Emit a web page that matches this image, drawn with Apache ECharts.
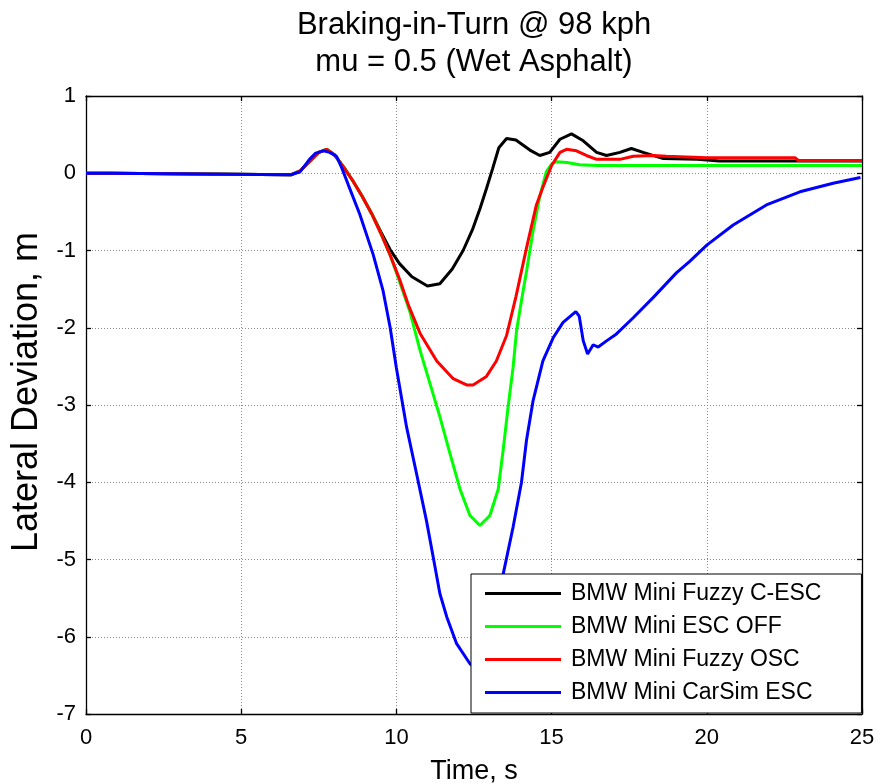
<!DOCTYPE html>
<html>
<head>
<meta charset="utf-8">
<script src="https://cdn.jsdelivr.net/npm/echarts@6/dist/echarts.min.js"></script>
<style>html,body{margin:0;padding:0;background:#fff}#c{width:878px;height:784px}</style>
</head>
<body>
<div id="c"></div>
<script>
const titleText = ['Braking-in-Turn @ 98 kph', 'mu = 0.5 (Wet Asphalt)'];
const xTicks = [0, 5, 10, 15, 20, 25];
const yTicks = [-7, -6, -5, -4, -3, -2, -1, 0, 1];
const seriesNames = ['BMW Mini Fuzzy C-ESC', 'BMW Mini ESC OFF', 'BMW Mini Fuzzy OSC', 'BMW Mini CarSim ESC'];

const cescT = [0, 0.77, 0.82, 6.6, 6.9, 7.2, 7.5, 7.75, 8.0, 8.3, 8.6, 8.9, 9.2, 9.5, 9.8, 10.1, 10.5, 11.0, 11.4, 11.8, 12.15, 12.45, 12.7, 12.9, 13.1, 13.3, 13.55, 13.85, 14.3, 14.62, 14.94, 15.27, 15.64, 16.02, 16.45, 16.77, 17.2, 17.57, 17.95, 18.6, 19.7, 20.4, 22.1, 25];
const cescY = [0, 0, -0.02, -0.02, 0.03, 0.15, 0.27, 0.31, 0.24, 0.08, -0.1, -0.3, -0.52, -0.76, -0.99, -1.17, -1.34, -1.46, -1.43, -1.24, -1.0, -0.73, -0.45, -0.2, 0.06, 0.33, 0.45, 0.43, 0.3, 0.23, 0.27, 0.44, 0.51, 0.42, 0.27, 0.23, 0.27, 0.32, 0.27, 0.19, 0.18, 0.16, 0.16, 0.16];

const offT = [0, 0.77, 0.82, 6.6, 6.9, 7.2, 7.5, 7.75, 8.0, 8.3, 8.6, 8.9, 9.2, 9.5, 9.8, 10.1, 10.44, 10.76, 11.08, 11.4, 11.72, 12.05, 12.37, 12.69, 13.01, 13.28, 13.44, 13.6, 13.76, 13.87, 14.05, 14.2, 14.4, 14.62, 14.83, 15.0, 15.16, 15.5, 15.9, 16.45, 25];
const offY = [0, 0, -0.02, -0.02, 0.03, 0.15, 0.27, 0.31, 0.24, 0.08, -0.1, -0.3, -0.52, -0.78, -1.06, -1.4, -1.8, -2.29, -2.72, -3.15, -3.62, -4.09, -4.43, -4.56, -4.43, -4.09, -3.58, -3.02, -2.51, -2.04, -1.6, -1.25, -0.75, -0.3, 0.02, 0.12, 0.15, 0.14, 0.11, 0.1, 0.1];

const oscT = [0, 0.77, 0.82, 6.6, 6.9, 7.2, 7.5, 7.75, 8.0, 8.3, 8.6, 8.9, 9.2, 9.5, 9.8, 10.1, 10.4, 10.76, 11.3, 11.83, 12.26, 12.47, 12.9, 13.22, 13.55, 13.85, 14.19, 14.51, 14.75, 15.0, 15.27, 15.48, 15.8, 16.12, 16.45, 17.2, 17.63, 18.27, 18.7, 20.0, 22.85, 22.95, 25];
const oscY = [0, 0, -0.02, -0.02, 0.03, 0.15, 0.27, 0.31, 0.24, 0.08, -0.1, -0.3, -0.52, -0.78, -1.06, -1.37, -1.72, -2.07, -2.43, -2.66, -2.74, -2.74, -2.63, -2.43, -2.1, -1.6, -0.97, -0.41, -0.15, 0.1, 0.27, 0.31, 0.29, 0.23, 0.18, 0.18, 0.22, 0.23, 0.22, 0.2, 0.2, 0.165, 0.165];

const carsimT = [0, 0.77, 0.82, 6.6, 6.9, 7.2, 7.4, 7.65, 7.85, 8.07, 8.25, 8.45, 8.82, 9.25, 9.57, 9.8, 10.0, 10.33, 10.65, 10.97, 11.2, 11.4, 11.62, 11.94, 12.37, 12.6, 12.9, 13.2, 13.44, 13.76, 14.03, 14.19, 14.4, 14.72, 15.05, 15.37, 15.78, 15.89, 16.02, 16.16, 16.34, 16.5, 16.77, 17.09, 17.63, 18.27, 19.02, 19.45, 20.0, 20.85, 21.92, 23.0, 24.07, 24.95];
const carsimY = [0, 0, -0.02, -0.02, 0.02, 0.18, 0.26, 0.29, 0.27, 0.22, 0.06, -0.15, -0.53, -1.05, -1.52, -2.0, -2.52, -3.29, -3.89, -4.5, -5.0, -5.44, -5.74, -6.09, -6.35, -6.42, -6.3, -5.85, -5.19, -4.58, -4.0, -3.46, -2.95, -2.43, -2.13, -1.93, -1.79, -1.85, -2.17, -2.34, -2.22, -2.25, -2.17, -2.08, -1.87, -1.61, -1.29, -1.14, -0.93, -0.67, -0.41, -0.24, -0.13, -0.055];

const colors = ['#000000', '#00ff00', '#ff0000', '#0000ff'];
const FONT = 'Liberation Sans, Arial, sans-serif';

function pairs(t, y) { return t.map((v, i) => [v, y[i]]); }
const dataSets = [pairs(cescT, cescY), pairs(offT, offY), pairs(oscT, oscY), pairs(carsimT, carsimY)];

const chart = echarts.init(document.getElementById('c'), null, { renderer: 'canvas' });
const gridLine = { show: true, lineStyle: { color: '#8a8a8a', type: [1, 2], width: 1 } };
const axisLine = { show: true, onZero: false, lineStyle: { color: '#000', width: 1.3 } };
const tick = { show: true, inside: true, length: 5, lineStyle: { color: '#000', width: 1.3 } };

chart.setOption({
  animation: false,
  backgroundColor: '#fff',
  title: {
    text: titleText.join('\n'),
    left: 474, top: 7, textAlign: 'center', padding: 0,
    textStyle: { fontFamily: FONT, fontSize: 31, fontWeight: 'normal', lineHeight: 37, color: '#000' }
  },
  grid: { left: 86, right: 16, top: 96, bottom: 70, containLabel: false, outerBoundsMode: 'none' },
  legend: {
    data: seriesNames,
    orient: 'vertical', left: 471, top: 574,
    backgroundColor: '#fff', borderColor: '#000', borderWidth: 1,
    padding: [8, 40, 9, 14], itemGap: 10, itemWidth: 76, itemHeight: 3, icon: 'rect',
    textStyle: { fontFamily: FONT, fontSize: 23, lineHeight: 23, color: '#000', padding: [0, 0, 0, 5] }
  },
  xAxis: [{
    type: 'value', min: xTicks[0], max: xTicks[xTicks.length - 1], interval: 5,
    name: 'Time, s', nameLocation: 'middle', nameGap: 44,
    nameTextStyle: { fontFamily: FONT, fontSize: 27, color: '#000' },
    axisLine: axisLine, axisTick: tick, splitLine: gridLine,
    axisLabel: { fontFamily: FONT, fontSize: 22, color: '#000', margin: 13 }
  }, {
    type: 'value', position: 'top', min: xTicks[0], max: xTicks[xTicks.length - 1], interval: 5,
    axisLine: axisLine, axisTick: tick, splitLine: { show: false }, axisLabel: { show: false }
  }],
  yAxis: [{
    type: 'value', min: yTicks[0], max: yTicks[yTicks.length - 1], interval: 1,
    name: 'Lateral Deviation, m', nameLocation: 'middle', nameGap: 41,
    nameTextStyle: { fontFamily: FONT, fontSize: 36, color: '#000', padding: [0, 0, 0, 26] },
    axisLine: axisLine, axisTick: tick, splitLine: gridLine,
    axisLabel: { fontFamily: FONT, fontSize: 22, color: '#000', margin: 10 }
  }, {
    type: 'value', position: 'right', min: yTicks[0], max: yTicks[yTicks.length - 1], interval: 1,
    axisLine: axisLine, axisTick: tick, splitLine: { show: false }, axisLabel: { show: false }
  }],
  series: seriesNames.map((n, i) => ({
    name: n, type: 'line', data: dataSets[i], xAxisIndex: 0, yAxisIndex: 0,
    showSymbol: false, symbol: 'none', color: colors[i],
    lineStyle: { color: colors[i], width: 3 }, z: 2 + i * 0.01
  }))
});
</script>
</body>
</html>
